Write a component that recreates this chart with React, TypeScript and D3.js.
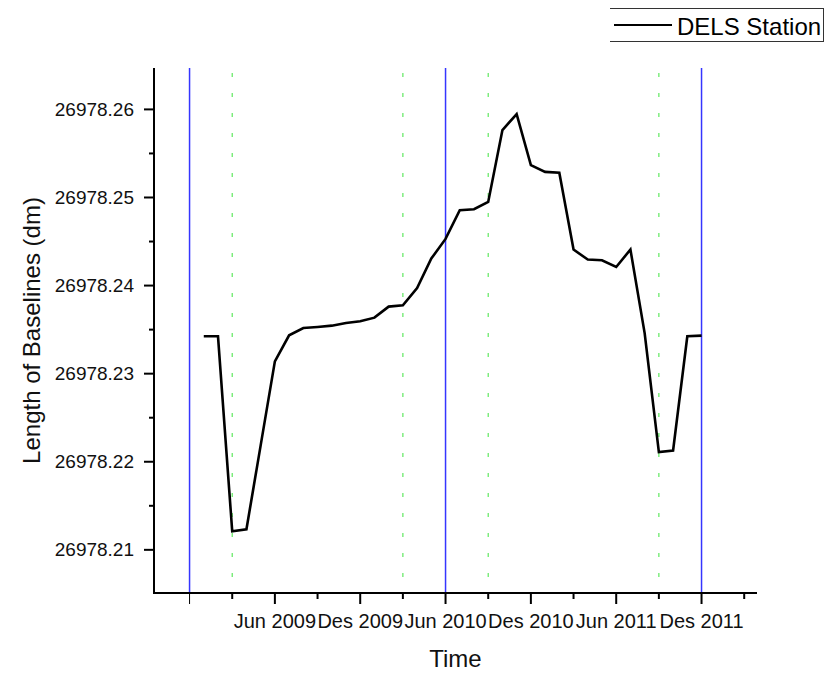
import * as d3 from "d3";

// month index: 0 = Des 2008, 6 = Jun 2009, ... 36 = Des 2011
const months = [
  1, 2, 3, 4, 5, 6, 7, 8, 9, 10, 11, 12, 13, 14, 15, 16, 17, 18,
  19, 20, 21, 22, 23, 24, 25, 26, 27, 28, 29, 30, 31, 32, 33, 34, 35, 36,
];
const lengths = [
  26978.23424, 26978.23424, 26978.21211, 26978.21234, 26978.22186, 26978.2314,
  26978.23435, 26978.23518, 26978.2353, 26978.23545, 26978.23575, 26978.23594,
  26978.23636, 26978.23761, 26978.23776, 26978.23973, 26978.24307, 26978.2453,
  26978.24856, 26978.24867, 26978.2495, 26978.25765, 26978.25947, 26978.25367,
  26978.25291, 26978.2528, 26978.24409, 26978.24295, 26978.24288, 26978.24211,
  26978.24409, 26978.2346, 26978.22109, 26978.22128, 26978.23424, 26978.23432,
];

const yTicks = [26978.21, 26978.22, 26978.23, 26978.24, 26978.25, 26978.26];
const yMinor = [26978.215, 26978.225, 26978.235, 26978.245, 26978.255];
const xTicks = [0, 6, 12, 18, 24, 30, 36];
const xTickLabels = ["", "Jun 2009", "Des 2009", "Jun 2010", "Des 2010", "Jun 2011", "Des 2011"];
const xMinor = [3, 9, 15, 21, 27, 33, 39];
const blueLines = [0, 18, 36];
const greenLines = [3, 15, 21, 33];

const left = 154, right = 757, top = 68, bottom = 593;
const font = "'Liberation Sans', Arial, sans-serif";

export default function App() {
  const x = d3.scaleLinear().domain([-2.5, 39.9]).range([left, right]);
  const y = d3.scaleLinear().domain([26978.2051, 26978.2647]).range([bottom, top]);

  const line = d3
    .line<number>()
    .x((_, i) => x(months[i]))
    .y((d) => y(d));

  return (
    <svg
      width={826}
      height={673}
      style={{ position: "absolute", left: 0, top: 0, background: "#fff" }}
      fontFamily={font}
    >
      {/* reference lines */}
      {blueLines.map((m) => (
        <line key={"b" + m} x1={x(m)} x2={x(m)} y1={top} y2={bottom} stroke="#3535ff" strokeWidth={1.5} />
      ))}
      {greenLines.map((m) => (
        <line
          key={"g" + m}
          x1={x(m)}
          x2={x(m)}
          y1={top + 5}
          y2={bottom}
          stroke="#5fe85f"
          strokeWidth={1.2}
          strokeDasharray="4,16"
        />
      ))}

      {/* data */}
      <path d={line(lengths) ?? ""} fill="none" stroke="#000" strokeWidth={2.6} strokeLinejoin="miter" />

      {/* y axis */}
      <line x1={left} x2={left} y1={top} y2={bottom + 1} stroke="#000" strokeWidth={2} />
      {yTicks.map((t) => (
        <g key={t}>
          <line x1={left - 10} x2={left} y1={y(t)} y2={y(t)} stroke="#000" strokeWidth={2} />
          <text x={134} y={y(t)} dy="0.35em" textAnchor="end" fontSize={19} fill="#111">
            {t.toFixed(2)}
          </text>
        </g>
      ))}
      {yMinor.map((t) => (
        <line key={t} x1={left - 5} x2={left} y1={y(t)} y2={y(t)} stroke="#000" strokeWidth={2} />
      ))}
      <text
        transform={`translate(40,${(top + bottom) / 2}) rotate(-90)`}
        textAnchor="middle"
        fontSize={24}
        fill="#111"
      >
        Length of Baselines (dm)
      </text>

      {/* x axis */}
      <line x1={left - 1} x2={right} y1={bottom} y2={bottom} stroke="#000" strokeWidth={2} />
      {xTicks.map((t, i) => (
        <g key={t}>
          <line x1={x(t)} x2={x(t)} y1={bottom} y2={bottom + 11} stroke="#000" strokeWidth={i === 0 ? 1 : 2} />
          <text x={x(t)} y={628} textAnchor="middle" fontSize={20} fill="#111">
            {xTickLabels[i]}
          </text>
        </g>
      ))}
      {xMinor.map((t) => (
        <line key={t} x1={x(t)} x2={x(t)} y1={bottom} y2={bottom + 6} stroke="#000" strokeWidth={2} />
      ))}
      <text x={(left + right) / 2} y={667} textAnchor="middle" fontSize={24} fill="#111">
        Time
      </text>

      {/* legend */}
      <g>
        <line x1={610} x2={824} y1={8.5} y2={8.5} stroke="#333" strokeWidth={1} />
        <line x1={610} x2={824} y1={41.5} y2={41.5} stroke="#333" strokeWidth={1} />
        <line x1={823.5} x2={823.5} y1={8} y2={42} stroke="#333" strokeWidth={1} />
        <line x1={614} x2={672} y1={25} y2={25} stroke="#000" strokeWidth={2} />
        <text x={677} y={35} fontSize={24} fill="#000">
          DELS Station
        </text>
      </g>
    </svg>
  );
}
